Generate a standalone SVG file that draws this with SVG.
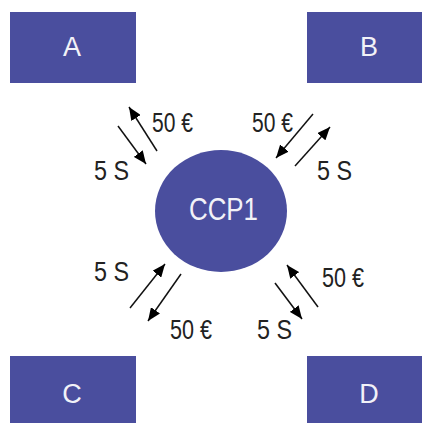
<svg xmlns="http://www.w3.org/2000/svg" width="422" height="423" viewBox="0 0 422 423">
<defs>
<style>
.box{fill:#4a4e9e;}
.lbl{font-family:"Liberation Sans",Arial,sans-serif;font-size:27px;fill:#f2f2f8;text-anchor:middle;}
.t{font-family:"Liberation Sans",Arial,sans-serif;font-size:28px;fill:#222;}
.c{stroke:#111;stroke-width:1.5;fill:none;marker-end:url(#ah);}
</style>
<marker id="ah" markerUnits="userSpaceOnUse" markerWidth="13" markerHeight="11" refX="13" refY="5.5" orient="auto">
<path d="M0,0 L13,5.5 L0,11 z" fill="#000"/>
</marker>
</defs>
<rect width="422" height="423" fill="#ffffff"/>
<g id="A"><rect class="box" x="10" y="12" width="126" height="71"/><text class="lbl" x="72" y="56">A</text></g>
<g id="B"><rect class="box" x="307" y="12" width="126" height="71"/><text class="lbl" x="369" y="56">B</text></g>
<g id="C"><rect class="box" x="10" y="356" width="126" height="71"/><text class="lbl" x="72" y="403">C</text></g>
<g id="D"><rect class="box" x="307" y="356" width="126" height="71"/><text class="lbl" x="369" y="403">D</text></g>
<g id="CCP1"><ellipse class="box" cx="221" cy="211" rx="66" ry="61"/><text x="189" y="220" font-family="Liberation Sans,Arial,sans-serif" font-size="32" fill="#f2f2f8" textLength="69" lengthAdjust="spacingAndGlyphs">CCP1</text></g>
<g id="connectors">
<line class="c" x1="157" y1="151" x2="129" y2="107"/>
<line class="c" x1="118" y1="126" x2="146" y2="164"/>
<line class="c" x1="313" y1="114" x2="276" y2="158"/>
<line class="c" x1="295" y1="166" x2="330" y2="127"/>
<line class="c" x1="130" y1="308" x2="165" y2="264"/>
<line class="c" x1="181" y1="274" x2="148" y2="321"/>
<line class="c" x1="318" y1="307" x2="287" y2="265"/>
<line class="c" x1="275" y1="283" x2="302" y2="319"/>
</g>
<g id="labels">
<text class="t" x="152" y="132" textLength="41" lengthAdjust="spacingAndGlyphs">50 €</text>
<text class="t" x="94" y="180" textLength="35" lengthAdjust="spacingAndGlyphs">5 S</text>
<text class="t" x="252" y="132" textLength="41" lengthAdjust="spacingAndGlyphs">50 €</text>
<text class="t" x="317" y="180" textLength="35" lengthAdjust="spacingAndGlyphs">5 S</text>
<text class="t" x="94" y="281" textLength="35" lengthAdjust="spacingAndGlyphs">5 S</text>
<text class="t" x="170" y="339" textLength="42" lengthAdjust="spacingAndGlyphs">50 €</text>
<text class="t" x="322" y="287" textLength="42" lengthAdjust="spacingAndGlyphs">50 €</text>
<text class="t" x="257" y="339" textLength="35" lengthAdjust="spacingAndGlyphs">5 S</text>
</g>
</svg>
